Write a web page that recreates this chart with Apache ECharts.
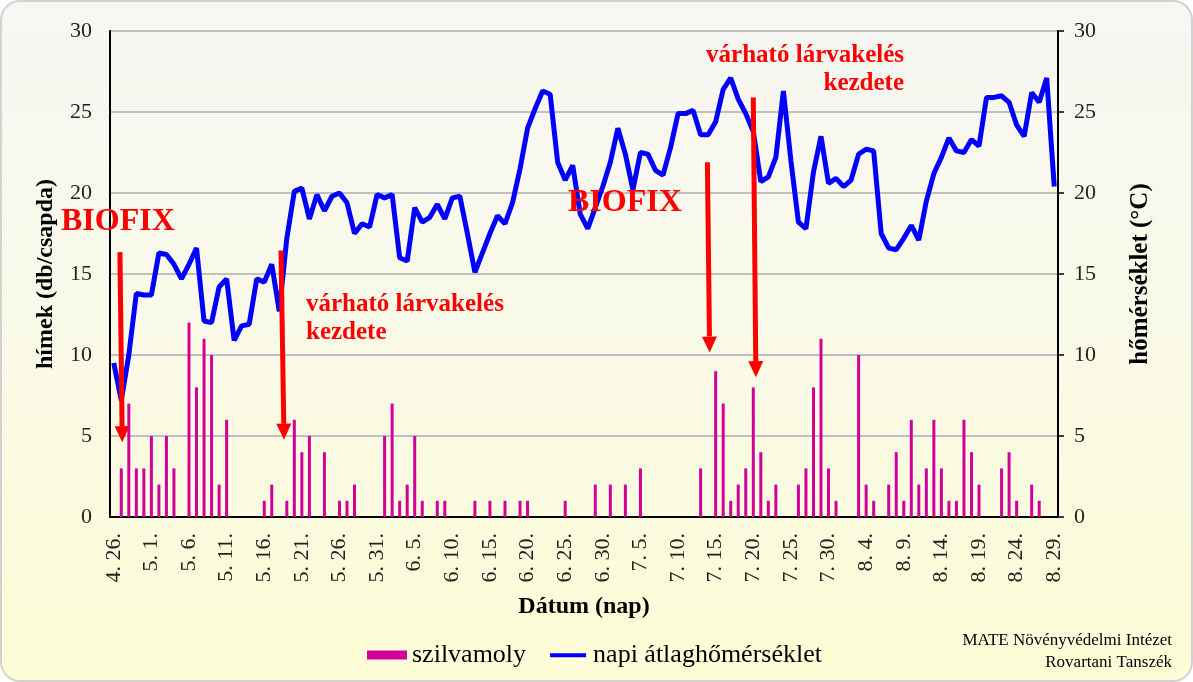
<!DOCTYPE html>
<html>
<head>
<meta charset="utf-8">
<script src="https://cdn.jsdelivr.net/npm/echarts@6/dist/echarts.min.js"></script>
<style>
  body { margin: 0; background: #ffffff; }
  #bg {
    position: absolute; left: 0; top: 0; width: 1193px; height: 682px;
    box-sizing: border-box; border: 2px solid #d2d2d2; border-radius: 20px;
    background: linear-gradient(to bottom, #f6f6f3 0%, #f9f9e9 45%, #fdfdd6 100%);
  }
  #main { position: absolute; left: 0; top: 0; width: 1193px; height: 682px; }
</style>
</head>
<body>
<div id="bg"></div>
<div id="main"></div>
<script>
// napok: 4.26 - 8.29
const monthRanges = [[4, 26, 30], [5, 1, 31], [6, 1, 30], [7, 1, 31], [8, 1, 29]]
const dates = []
monthRanges.forEach(([m, from, to]) => {
  for (let d = from; d <= to; d++) dates.push(m + '. ' + d + '.')
})

// szilvamoly fogás (db/csapda)
const moths = [
  0, 3, 7, 3, 3, 5, 2, 5, 3, 0,
  12, 8, 11, 10, 2, 6, 0, 0, 0, 0,
  1, 2, 0, 1, 6, 4, 5, 0, 4, 0,
  1, 1, 2, 0, 0, 0, 5, 7, 1, 2,
  5, 1, 0, 1, 1, 0, 0, 0, 1, 0,
  1, 0, 1, 0, 1, 1, 0, 0, 0, 0,
  1, 0, 0, 0, 2, 0, 2, 0, 2, 0,
  3, 0, 0, 0, 0, 0, 0, 0, 3, 0,
  9, 7, 1, 2, 3, 8, 4, 1, 2, 0,
  0, 2, 3, 8, 11, 3, 1, 0, 0, 10,
  2, 1, 0, 2, 4, 1, 6, 2, 3, 6,
  3, 1, 1, 6, 4, 2, 0, 0, 3, 4,
  1, 0, 2, 1, 0, 0
]

// napi átlaghőmérséklet (°C)
const temps = [
  9.5, 7.2, 10.0, 13.8, 13.7, 13.7, 16.3, 16.2, 15.6, 14.7,
  15.6, 16.6, 12.1, 12.0, 14.2, 14.7, 10.9, 11.8, 11.9, 14.7,
  14.5, 15.6, 12.7, 17.2, 20.1, 20.3, 18.4, 19.9, 18.9, 19.8,
  20.0, 19.4, 17.5, 18.1, 17.9, 19.9, 19.7, 19.9, 16.0, 15.8,
  19.1, 18.2, 18.5, 19.3, 18.4, 19.7, 19.8, 17.5, 15.1, 16.3,
  17.5, 18.6, 18.1, 19.4, 21.5, 24.0, 25.2, 26.3, 26.1, 21.9,
  20.8, 21.7, 18.7, 17.8, 19.1, 20.4, 21.9, 24.0, 22.4, 20.2,
  22.5, 22.4, 21.4, 21.1, 22.8, 24.9, 24.9, 25.1, 23.6, 23.6,
  24.4, 26.4, 27.1, 25.8, 24.9, 23.8, 20.7, 21.0, 22.2, 26.3,
  22.0, 18.2, 17.8, 21.3, 23.5, 20.6, 20.9, 20.4, 20.8, 22.4,
  22.7, 22.6, 17.5, 16.6, 16.5, 17.2, 18.0, 17.1, 19.5, 21.2,
  22.2, 23.4, 22.6, 22.5, 23.3, 22.9, 25.9, 25.9, 26.0, 25.6,
  24.2, 23.5, 26.2, 25.6, 27.1, 20.4
]

// nyilak (kategória index, érték)
const arrowFrom = [[0.82, 16.35], [22.23, 16.45], [78.9, 21.9], [85.0, 25.9]]
const arrowTo = [[1.13, 4.62], [22.63, 4.77], [79.2, 10.15], [85.35, 8.63]]

const serif = "'Liberation Serif', 'Times New Roman', serif"
const red = '#ff0000'

let charts = echarts.init(document.getElementById('main'))
let options = {
  backgroundColor: 'transparent',
  animation: false,
  textStyle: { fontFamily: serif },
  legend: {
    left: 362,
    top: 637,
    itemWidth: 40,
    itemHeight: 9,
    itemGap: 24,
    textStyle: { fontFamily: serif, fontSize: 26, color: '#000' },
    data: [
      { name: 'szilvamoly', icon: 'rect' },
      // vastag vonal, jel nélkül
      { name: 'napi átlaghőmérséklet', icon: 'path://M0,0M0,3L40,3L40,7.5L0,7.5ZM40,10' }
    ]
  },
  grid: { left: 110, right: 135, top: 31, bottom: 165 },
  xAxis: [
    {
      type: 'category',
      data: dates,
      boundaryGap: true,
      name: 'Dátum (nap)',
      nameLocation: 'middle',
      nameGap: 78,
      nameTextStyle: { fontFamily: serif, fontSize: 24, fontWeight: 'bold', color: '#000' },
      axisLine: { lineStyle: { color: '#000', width: 2 } },
      axisTick: { interval: 0, length: 4, lineStyle: { color: '#000', width: 1.5 } },
      axisLabel: { interval: 4, rotate: 90, margin: 16, fontFamily: serif, fontSize: 22, color: '#222' },
      splitLine: { show: false }
    },
    {
      type: 'category',
      data: dates,
      boundaryGap: true,
      position: 'bottom',
      axisLine: { show: false },
      axisTick: { interval: 4, length: 8, lineStyle: { color: '#000', width: 1.5 } },
      axisLabel: { show: false },
      splitLine: { show: false }
    }
  ],
  yAxis: [
    {
      type: 'value',
      min: 0, max: 30, interval: 5,
      name: 'hímek (db/csapda)',
      nameLocation: 'middle',
      nameRotate: 90,
      nameGap: 52,
      nameTextStyle: { fontFamily: serif, fontSize: 24, fontWeight: 'bold', color: '#000' },
      axisLine: { show: true, lineStyle: { color: '#000', width: 2 } },
      axisTick: { show: false },
      axisLabel: { margin: 18, fontFamily: serif, fontSize: 22, color: '#222' },
      splitLine: { lineStyle: { color: '#c0c0c0', width: 2 } }
    },
    {
      type: 'value',
      min: 0, max: 30, interval: 5,
      position: 'right',
      name: 'hőmérséklet (°C)',
      nameLocation: 'middle',
      nameRotate: 90,
      nameGap: 70,
      nameTextStyle: { fontFamily: serif, fontSize: 25, fontWeight: 'bold', color: '#000' },
      axisLine: { show: true, lineStyle: { color: '#000', width: 2 } },
      axisTick: { show: true, length: 6, lineStyle: { color: '#000', width: 1.5 } },
      axisLabel: { margin: 16, fontFamily: serif, fontSize: 22, color: '#222' },
      splitLine: { show: false }
    }
  ],
  series: [
    {
      name: 'szilvamoly',
      type: 'bar',
      data: moths,
      barWidth: 3,
      itemStyle: { color: '#d1009a' }
    },
    {
      name: 'napi átlaghőmérséklet',
      type: 'line',
      yAxisIndex: 1,
      data: temps,
      showSymbol: false,
      symbol: 'none',
      lineStyle: { color: '#0000ff', width: 5 },
      itemStyle: { color: '#0000ff' },
      z: 3
    }
  ]
}
charts.setOption(options)

// kategória tört index -> pixel
function toPx (f, v) {
  const i0 = Math.floor(f)
  const x0 = charts.convertToPixel({ xAxisIndex: 0 }, i0)
  const x1 = charts.convertToPixel({ xAxisIndex: 0 }, i0 + 1)
  const y = charts.convertToPixel({ yAxisIndex: 0 }, v)
  return [x0 + (f - i0) * (x1 - x0), y]
}

const graphics = []
arrowFrom.forEach((from, k) => {
  const a = toPx(from[0], from[1])
  const b = toPx(arrowTo[k][0], arrowTo[k][1])
  const dx = b[0] - a[0]
  const dy = b[1] - a[1]
  const len = Math.sqrt(dx * dx + dy * dy)
  const ux = dx / len
  const uy = dy / len
  const head = 16
  const half = 7.5
  const base = [b[0] - ux * head, b[1] - uy * head]
  graphics.push({
    type: 'line',
    shape: { x1: a[0], y1: a[1], x2: base[0], y2: base[1] },
    style: { stroke: red, lineWidth: 5 },
    z: 10
  })
  graphics.push({
    type: 'polygon',
    shape: { points: [[b[0], b[1]], [base[0] - uy * half, base[1] + ux * half], [base[0] + uy * half, base[1] - ux * half]] },
    style: { fill: red },
    z: 10
  })
})

const redText = (text, x, y, size, align) => ({
  type: 'text',
  x: x, y: y,
  style: {
    text: text, fill: red, font: 'bold ' + size + 'px ' + serif,
    align: align || 'left', verticalAlign: 'middle'
  },
  z: 11
})

graphics.push(redText('BIOFIX', 61, 222, 32))
graphics.push(redText('BIOFIX', 568, 203, 32))
graphics.push(redText('várható lárvakelés', 306, 305, 25))
graphics.push(redText('kezdete', 306, 333, 25))
graphics.push(redText('várható lárvakelés', 904, 56, 25, 'right'))
graphics.push(redText('kezdete', 904, 84, 25, 'right'))

graphics.push({
  type: 'text', x: 1172, y: 641,
  style: { text: 'MATE Növényvédelmi Intézet', fill: '#000', font: '17px ' + serif, align: 'right', verticalAlign: 'middle' }
})
graphics.push({
  type: 'text', x: 1172, y: 663,
  style: { text: 'Rovartani Tanszék', fill: '#000', font: '17px ' + serif, align: 'right', verticalAlign: 'middle' }
})

charts.setOption({ graphic: graphics })
</script>
</body>
</html>
